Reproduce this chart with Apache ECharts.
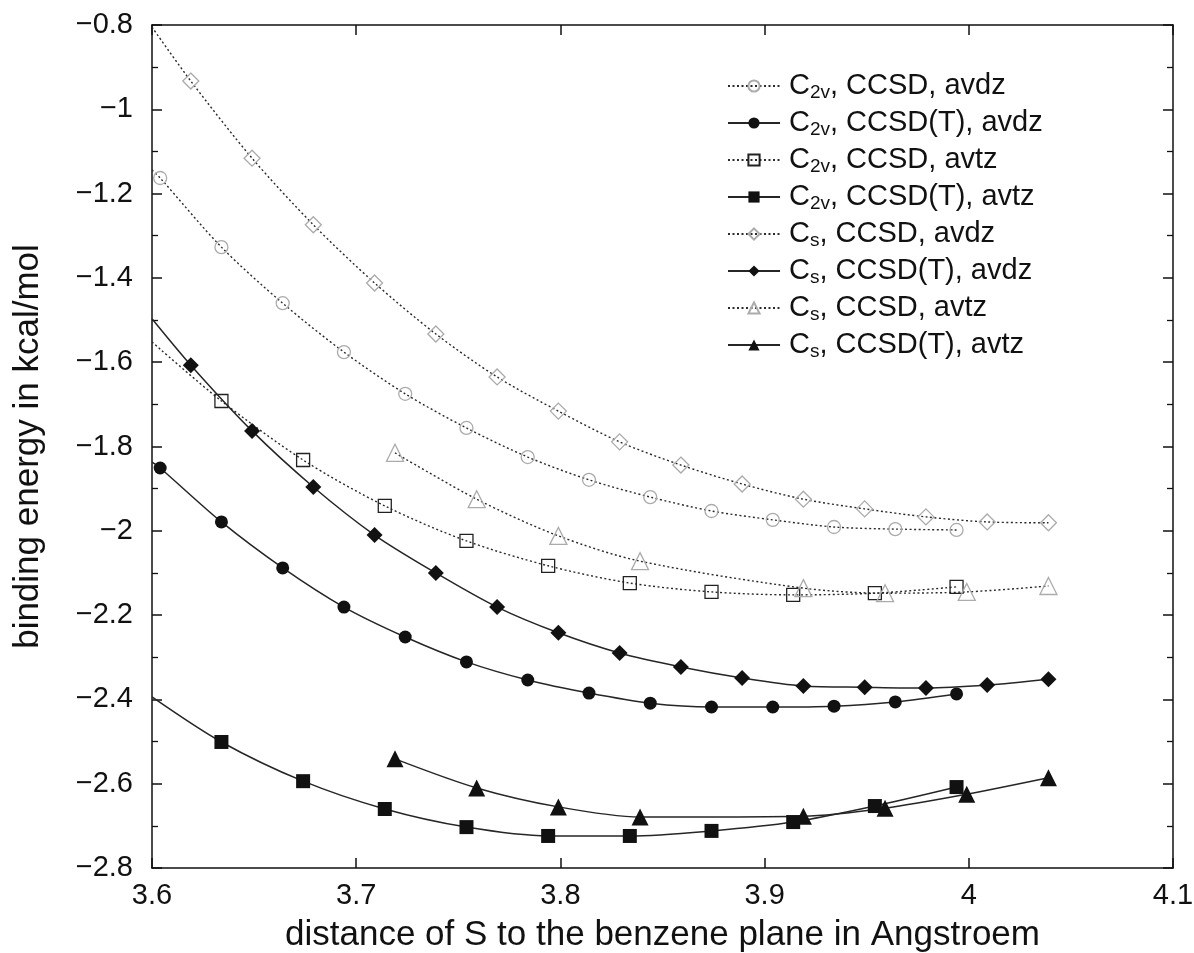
<!DOCTYPE html>
<html>
<head>
<meta charset="utf-8">
<script src="https://cdn.jsdelivr.net/npm/echarts@6/dist/echarts.min.js"></script>
<style>html,body{margin:0;padding:0;background:#fff;}#chart{width:1194px;height:953px;}</style>
</head>
<body>
<div id="chart"></div>
<script>
// ---- data ----
const xC2vAvdz = [3.604,3.634,3.664,3.694,3.724,3.754,3.784,3.814,3.844,3.874,3.904,3.934,3.964,3.994];
const yC2vCcsdAvdz = [-1.163,-1.327,-1.460,-1.576,-1.675,-1.756,-1.825,-1.879,-1.920,-1.953,-1.974,-1.991,-1.996,-1.998];
const yC2vCcsdTAvdz = [-1.851,-1.979,-2.088,-2.181,-2.252,-2.311,-2.354,-2.385,-2.409,-2.418,-2.418,-2.416,-2.406,-2.387];

const xC2vAvtz = [3.634,3.674,3.714,3.754,3.794,3.834,3.874,3.914,3.954,3.994];
const yC2vCcsdAvtz = [-1.692,-1.832,-1.941,-2.024,-2.083,-2.124,-2.145,-2.152,-2.148,-2.133];
const yC2vCcsdTAvtz = [-2.501,-2.594,-2.660,-2.703,-2.724,-2.724,-2.712,-2.691,-2.653,-2.608];

const xCsAvdz = [3.619,3.649,3.679,3.709,3.739,3.769,3.799,3.829,3.859,3.889,3.919,3.949,3.979,4.009,4.039];
const yCsCcsdAvdz = [-0.933,-1.116,-1.274,-1.412,-1.533,-1.635,-1.716,-1.789,-1.844,-1.889,-1.925,-1.948,-1.967,-1.979,-1.981];
const yCsCcsdTAvdz = [-1.607,-1.763,-1.896,-2.010,-2.100,-2.181,-2.242,-2.290,-2.323,-2.349,-2.368,-2.371,-2.373,-2.366,-2.352];

const xCsAvtz = [3.719,3.759,3.799,3.839,3.919,3.959,3.999,4.039];
const yCsCcsdAvtz = [-1.815,-1.925,-2.012,-2.072,-2.136,-2.148,-2.145,-2.131];
const yCsCcsdTAvtz = [-2.541,-2.610,-2.655,-2.679,-2.677,-2.658,-2.625,-2.586];

// value of each fitted curve where it meets the left frame (x = 3.6); null = curve starts at first point
const curveStartX = 3.6;
const curveStart = [-1.144, -1.837, -1.552, -2.394, -0.805, -1.497, null, null];

const seriesNames = ['C2v, CCSD, avdz','C2v, CCSD(T), avdz','C2v, CCSD, avtz','C2v, CCSD(T), avtz',
                     'Cs, CCSD, avdz','Cs, CCSD(T), avdz','Cs, CCSD, avtz','Cs, CCSD(T), avtz'];
const xTicks = [3.6, 3.7, 3.8, 3.9, 4.0, 4.1];
const yTicks = [-2.8,-2.6,-2.4,-2.2,-2.0,-1.8,-1.6,-1.4,-1.2,-1.0,-0.8];
const xTitle = 'distance of S to the benzene plane in Angstroem';
const yTitle = 'binding energy in kcal/mol';

// ---- build ----
const FONT = 'Liberation Sans, Arial, sans-serif';
const xs = [xC2vAvdz, xC2vAvdz, xC2vAvtz, xC2vAvtz, xCsAvdz, xCsAvdz, xCsAvtz, xCsAvtz];
const ys = [yC2vCcsdAvdz, yC2vCcsdTAvdz, yC2vCcsdAvtz, yC2vCcsdTAvtz, yCsCcsdAvdz, yCsCcsdTAvdz, yCsCcsdAvtz, yCsCcsdTAvtz];
const GRAY = '#ababab', BLACK = '#111';
const styles = [
  {symbol:'circle', size:13, open:true, mc:GRAY},
  {symbol:'circle', size:13, open:false, mc:BLACK},
  {symbol:'rect', size:13, open:true, mc:'#222'},
  {symbol:'rect', size:14, open:false, mc:BLACK},
  {symbol:'diamond', size:16, open:true, mc:GRAY},
  {symbol:'diamond', size:16, open:false, mc:BLACK},
  {symbol:'triangle', size:17, open:true, mc:GRAY},
  {symbol:'triangle', size:17, open:false, mc:BLACK}
];

const series = seriesNames.map((name, i) => {
  const st = styles[i];
  const data = [];
  if (curveStart[i] !== null) data.push({value:[curveStartX, curveStart[i]], symbol:'none'});
  xs[i].forEach((x, k) => data.push([x, ys[i][k]]));
  return {
    name, type:'line', data,
    smooth:0.3,
    symbol: st.symbol, symbolSize: st.size,
    itemStyle: st.open ? {color:'rgba(255,255,255,0)', borderColor:st.mc, borderWidth:1.3}
                       : {color:st.mc, borderColor:st.mc, borderWidth:0},
    lineStyle: st.open ? {color:'#2a2a2a', width:1.4, type:[2,2.5]}
                       : {color:'#262626', width:1.5, type:'solid'},
    emphasis:{disabled:true},
    z: st.open ? 2 : 3
  };
});

const minus = v => {
  const r = Math.round(v*10)/10;
  return String(r).replace('-', '\u2212');
};

const chart = echarts.init(document.getElementById('chart'), null, {renderer:'canvas'});
chart.setOption({
  animation:false,
  backgroundColor:'#fff',
  grid:{left:152, right:21, top:25, bottom:85, containLabel:false, outerBoundsMode:'none'},
  legend:{
    orient:'vertical', left:722, top:65, itemWidth:52, itemHeight:14, itemGap:5,
    data: seriesNames,
    textStyle:{fontFamily:FONT, fontSize:29, color:'#111', lineHeight:32, padding:[0,0,0,4],
      rich:{m:{fontFamily:FONT, fontSize:29, color:'#111', lineHeight:32},
            s:{fontFamily:FONT, fontSize:19, color:'#111', lineHeight:32, verticalAlign:'bottom'}}},
    formatter: n => {
      const m = n.match(/^C(2v|s)(,.*)$/);
      return '{m|C}{s|' + m[1] + '}{m|' + m[2] + '}';
    }
  },
  xAxis:[
    {type:'value', position:'bottom', min:xTicks[0], max:xTicks[xTicks.length-1], interval:0.1,
     axisLine:{show:true, onZero:false, lineStyle:{color:'#111', width:1.5}},
     axisTick:{show:true, inside:true, length:10, lineStyle:{color:'#111', width:1.5}},
     splitLine:{show:false},
     axisLabel:{fontFamily:FONT, fontSize:29, color:'#111', margin:13, formatter:minus},
     name:xTitle, nameLocation:'middle', nameGap:50,
     nameTextStyle:{fontFamily:FONT, fontSize:35, color:'#111'}},
    {type:'value', position:'top', min:xTicks[0], max:xTicks[xTicks.length-1], interval:0.1,
     axisLine:{show:true, onZero:false, lineStyle:{color:'#111', width:1.5}},
     axisTick:{show:true, inside:true, length:10, lineStyle:{color:'#111', width:1.5}},
     splitLine:{show:false}, axisLabel:{show:false}}
  ],
  yAxis:[
    {type:'value', position:'left', min:yTicks[0], max:yTicks[yTicks.length-1], interval:0.2,
     axisLine:{show:true, onZero:false, lineStyle:{color:'#111', width:1.5}},
     axisTick:{show:true, inside:true, length:10, lineStyle:{color:'#111', width:1.5}},
     minorTick:{show:true, splitNumber:2, length:6, lineStyle:{color:'#111', width:1.3}},
     splitLine:{show:false},
     axisLabel:{fontFamily:FONT, fontSize:29, color:'#111', margin:19, formatter:minus},
     name:yTitle, nameLocation:'middle', nameGap:106, nameRotate:90,
     nameTextStyle:{fontFamily:FONT, fontSize:35, color:'#111'}},
    {type:'value', position:'right', min:yTicks[0], max:yTicks[yTicks.length-1], interval:0.2,
     axisLine:{show:true, onZero:false, lineStyle:{color:'#111', width:1.5}},
     axisTick:{show:true, inside:true, length:10, lineStyle:{color:'#111', width:1.5}},
     minorTick:{show:true, splitNumber:2, length:6, lineStyle:{color:'#111', width:1.3}},
     splitLine:{show:false}, axisLabel:{show:false}}
  ],
  series
});
</script>
</body>
</html>
